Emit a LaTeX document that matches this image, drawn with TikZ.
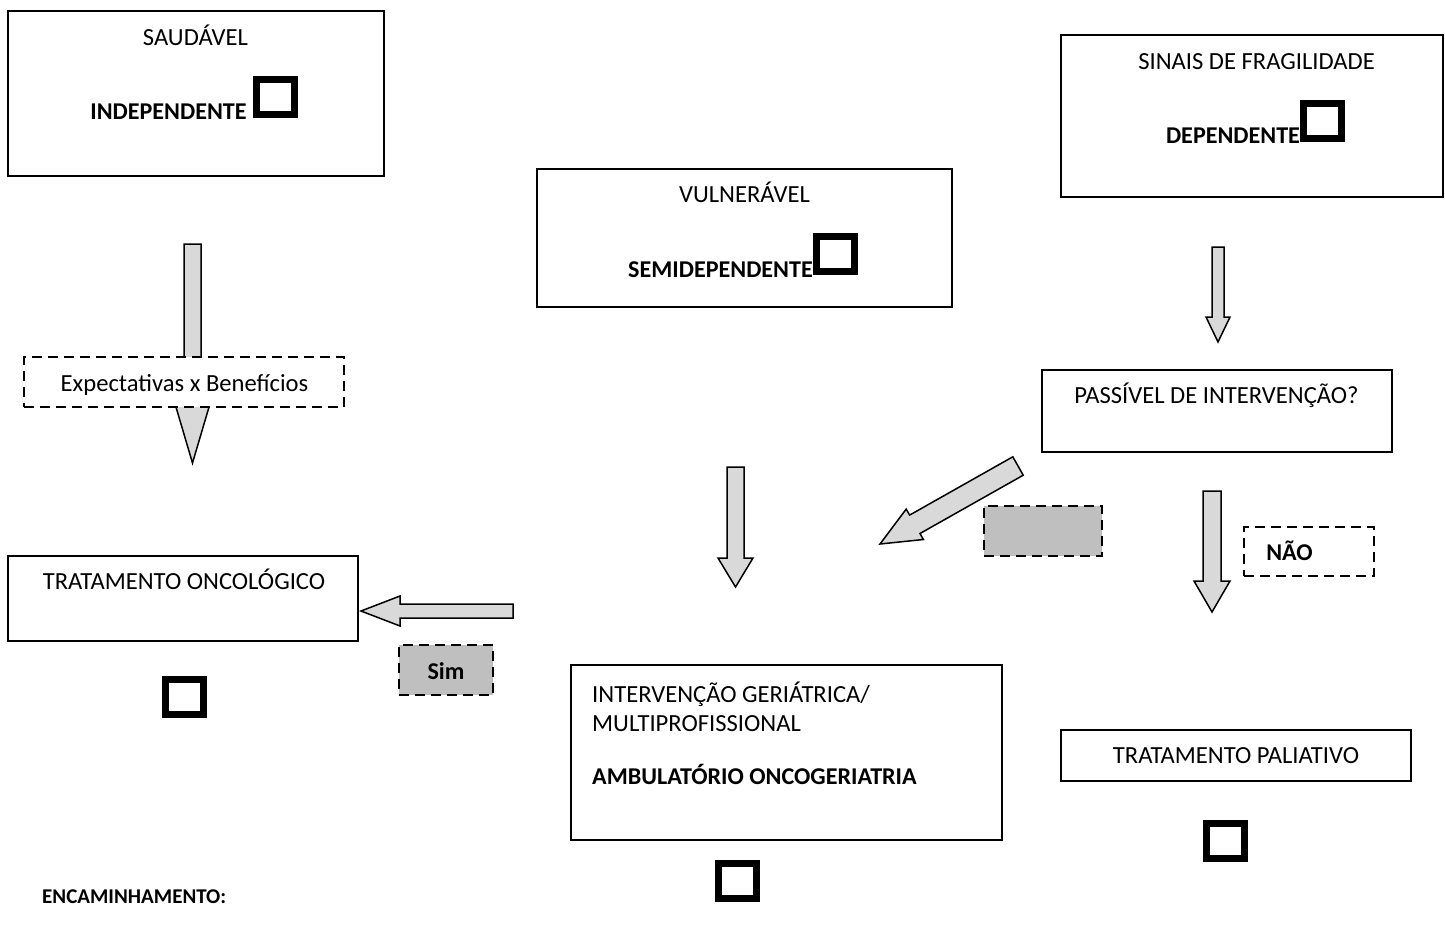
\documentclass[tikz,border=0pt]{standalone}
\usepackage{fontspec}
\setmainfont{Carlito}
\definecolor{arrowgray}{HTML}{D9D9D9}
\definecolor{boxgray}{HTML}{BFBFBF}
\newcommand\mainsize{\fontsize{24.6}{29}\selectfont}
\newcommand\boldsize{\fontsize{24.1}{29}\selectfont}
\newcommand\smallsize{\fontsize{21}{25}\selectfont}
\begin{document}
\begin{tikzpicture}[x=1pt,y=-1pt,
  box/.style={draw, line width=1.5pt, fill=white, inner sep=0pt, outer sep=0pt, anchor=north west},
  dbox/.style={draw, line width=2.5pt, dash pattern=on 10pt off 6pt, fill=white, inner sep=0pt, outer sep=0pt, anchor=north west},
  gbox/.style={dbox, fill=boxgray},
  cbox/.style={draw, line width=7pt, minimum width=38pt, minimum height=35pt, inner sep=0pt, outer sep=0pt},
  txt/.style={inner sep=0pt, anchor=base, font=\mainsize},
  btxt/.style={inner sep=0pt, anchor=base, font=\boldsize\bfseries},
  barrow/.style={draw, line width=1.5pt, fill=arrowgray, line join=miter}]
\useasboundingbox (0,0) rectangle (1445,926);

% block arrows
\draw[barrow] (184,244) -- (201,244) -- (201,402) -- (210.5,402) -- (192.5,463) -- (174.5,402) -- (184,402) -- cycle;
\draw[barrow] (1212,247) -- (1224,247) -- (1224,317) -- (1230,317) -- (1218,342) -- (1206,317) -- (1212,317) -- cycle;
\draw[barrow] (727,467) -- (744,467) -- (744,558) -- (753,558) -- (735.5,587) -- (718,558) -- (727,558) -- cycle;
\draw[barrow] (1203,491) -- (1221,491) -- (1221,581) -- (1230,581) -- (1212,612) -- (1194,581) -- (1203,581) -- cycle;
\draw[barrow] (513,604) -- (513,618) -- (400,618) -- (400,626) -- (361,611) -- (400,596) -- (400,604) -- cycle;
\draw[barrow] (1012.8,456.8) -- (1023.2,475.2) -- (920.0,533.5) -- (923.4,539.5) -- (880,544) -- (906.2,509.1) -- (909.6,515.1) -- cycle;

% boxes
\node[box, minimum width=376pt, minimum height=165pt] (saud) at (8,11) {};
\node[box, minimum width=415pt, minimum height=138pt] (vuln) at (537,169) {};
\node[box, minimum width=382pt, minimum height=162pt] (frag) at (1061,35) {};
\node[box, minimum width=350pt, minimum height=82pt] (pass) at (1042,370) {};
\node[dbox, minimum width=320pt, minimum height=50pt] (expe) at (24,357) {};
\node[box, minimum width=350pt, minimum height=85pt] (onco) at (8,556) {};
\node[gbox, minimum width=118pt, minimum height=50pt] (gray) at (984,506) {};
\node[dbox, minimum width=130pt, minimum height=49pt] (nao) at (1244,527) {};
\node[gbox, minimum width=94pt, minimum height=50pt] (sim) at (399,645) {};
\node[box, minimum width=431pt, minimum height=175pt] (interv) at (571,665) {};
\node[box, minimum width=350pt, minimum height=51pt] (paliat) at (1061,730) {};

% check boxes
\node[cbox] (cb1) at (275.5,97) {};
\node[cbox] (cb2) at (835.5,254) {};
\node[cbox] (cb3) at (1322.5,120.5) {};
\node[cbox] (cb4) at (184.5,697) {};
\node[cbox] (cb5) at (1225.5,840.5) {};
\node[cbox] (cb6) at (737,881) {};

% texts
\node[txt] (t1) at (195.5,45) {SAUDÁVEL};
\node[btxt] (t2) at (168.5,119) {INDEPENDENTE};
\node[txt] (t3) at (744.5,202) {VULNERÁVEL};
\node[btxt] (t4) at (720.5,277) {SEMIDEPENDENTE};
\node[txt] (t5) at (1256.5,69) {SINAIS DE FRAGILIDADE};
\node[btxt] (t6) at (1233,143) {DEPENDENTE};
\node[txt] (t7) at (1216.5,403) {PASSÍVEL DE INTERVENÇÃO?};
\node[txt] (t8) at (184.5,391) {Expectativas x Benefícios};
\node[txt] (t9) at (184,589) {TRATAMENTO ONCOLÓGICO};
\node[btxt] (t10) at (446,679) {Sim};
\node[btxt] (t11) at (1289.5,560) {NÃO};
\node[txt, anchor=base west] (t12) at (592,702) {INTERVENÇÃO GERIÁTRICA/};
\node[txt, anchor=base west] (t13) at (592,731) {MULTIPROFISSIONAL};
\node[btxt, anchor=base west] (t14) at (592,784) {AMBULATÓRIO ONCOGERIATRIA};
\node[txt] (t15) at (1236,763) {TRATAMENTO PALIATIVO};
\node[inner sep=0pt, anchor=base west, font=\smallsize\bfseries] (t16) at (42,903) {ENCAMINHAMENTO:};
\end{tikzpicture}
\end{document}
